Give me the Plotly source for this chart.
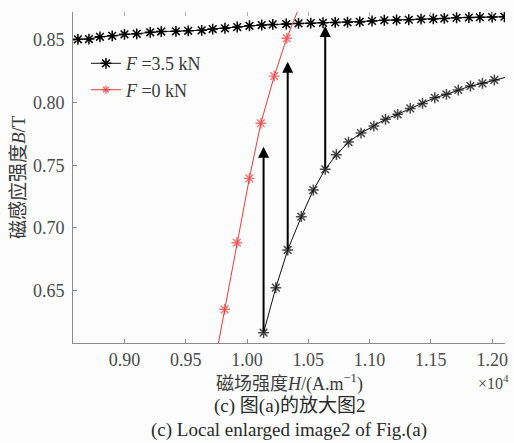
import plotly.graph_objects as go

# Magnetic field strength H (x10^4 A/m) and flux density B (T)
# F = 3.5 kN, upper branch
h_up = [0.862, 0.871, 0.880, 0.890, 0.900, 0.910, 0.921, 0.930, 0.942, 0.952,
        0.963, 0.972, 0.982, 0.992, 1.002, 1.012, 1.021, 1.032, 1.042, 1.052,
        1.062, 1.072, 1.082, 1.092, 1.102, 1.112, 1.122, 1.132, 1.142, 1.152,
        1.161, 1.171, 1.181, 1.190, 1.200, 1.210]
b_up = [0.8506, 0.8508, 0.8526, 0.8534, 0.8546, 0.8550, 0.8562, 0.8568, 0.8570, 0.8574,
        0.8578, 0.8588, 0.8594, 0.8604, 0.8614, 0.8620, 0.8625, 0.8628, 0.8633, 0.8635,
        0.8638, 0.8641, 0.8642, 0.8645, 0.8652, 0.8658, 0.8660, 0.8662, 0.8667, 0.8669,
        0.8673, 0.8678, 0.8680, 0.8682, 0.8684, 0.8686]

# F = 3.5 kN, lower branch (last point continues the line past the axis end)
h_low = [1.0135, 1.0235, 1.0332, 1.0443, 1.0541, 1.0638, 1.0729, 1.0828, 1.0930, 1.1035,
         1.1130, 1.1229, 1.1332, 1.1432, 1.1532, 1.1627, 1.1724, 1.1823, 1.1921, 1.2018,
         1.2120]
b_low = [0.6162, 0.6522, 0.6823, 0.7089, 0.7302, 0.7467, 0.7584, 0.7685, 0.7757, 0.7813,
         0.7867, 0.7907, 0.7954, 0.7994, 0.8039, 0.8066, 0.8101, 0.8133, 0.8154, 0.8181,
         0.8205]

# F = 0 kN (first and last points extend the line beyond the axes)
h_zero = [0.9717, 0.9817, 0.9917, 1.0019, 1.0113, 1.0222, 1.0324, 1.0425]
b_zero = [0.5820, 0.6349, 0.6881, 0.7395, 0.7835, 0.8212, 0.8514, 0.8760]

# Vertical arrows: (H, B start, B end)
arrow_h = [1.0135, 1.0332, 1.0638]
arrow_b0 = [0.6162, 0.6823, 0.7467]
arrow_b1 = [0.7648, 0.8327, 0.8612]

x_ticks = [0.90, 0.95, 1.00, 1.05, 1.10, 1.15, 1.20]
y_ticks = [0.65, 0.70, 0.75, 0.80, 0.85]

SERIF = "Liberation Serif, Noto Sans CJK SC"
TICK_COLOR = "#4a4a4a"
AXIS_COLOR = "#8c8c8c"

fig = go.Figure()

low_sizes = [9] * (len(h_low) - 1) + [0]
fig.add_trace(go.Scatter(
    x=h_up, y=b_up, mode="lines+markers", name="<i>F</i> =3.5 kN",
    line=dict(color="#111111", width=1),
    marker=dict(symbol="asterisk", size=9, line=dict(color="#000000", width=1.5)),
))
fig.add_trace(go.Scatter(
    x=h_low, y=b_low, mode="lines+markers", showlegend=False,
    line=dict(color="#111111", width=1),
    marker=dict(symbol="asterisk", size=low_sizes, line=dict(color="#000000", width=1.5)),
))
zero_sizes = [0] + [9] * (len(h_zero) - 2) + [0]
fig.add_trace(go.Scatter(
    x=h_zero, y=b_zero, mode="lines+markers", name="<i>F</i> =0 kN",
    line=dict(color="#f03a3a", width=1),
    marker=dict(symbol="asterisk", size=zero_sizes, line=dict(color="#f03a3a", width=1.4)),
))

# mirrored tick marks along the top edge
fig.add_trace(go.Scatter(x=[h_up[0]], y=[b_up[0]], xaxis="x2", mode="markers",
                         marker=dict(size=0, opacity=0), showlegend=False, hoverinfo="skip"))

for h, b0, b1 in zip(arrow_h, arrow_b0, arrow_b1):
    fig.add_annotation(
        x=h, y=b1, ax=h, ay=b0, xref="x", yref="y", axref="x", ayref="y",
        text="", showarrow=True, arrowhead=2, arrowsize=1.1, arrowwidth=2,
        arrowcolor="#000000", standoff=0, startstandoff=0,
    )

fig.add_annotation(text="磁感应强度<i>B</i>/T", xref="paper", yref="paper",
                   x=-0.126, y=0.5, xanchor="center", yanchor="middle",
                   textangle=-90, showarrow=False,
                   font=dict(family=SERIF, size=19, color="#3a3a3a"))
fig.add_annotation(text="磁场强度<i>H</i>/(A.m<sup>−1</sup>)", xref="paper", yref="paper",
                   x=0.5, y=-0.121, yanchor="middle", showarrow=False,
                   font=dict(family=SERIF, size=18, color="#3a3a3a"))
fig.add_annotation(text="×10<sup>4</sup>", xref="paper", yref="paper",
                   x=1.012, y=-0.084, xanchor="right", yanchor="top", showarrow=False,
                   borderpad=0, font=dict(family=SERIF, size=16, color=TICK_COLOR))
fig.add_annotation(text="(c) 图(a)的放大图2", xref="paper", yref="paper",
                   x=0.5, y=-0.19, yanchor="middle", showarrow=False,
                   font=dict(family=SERIF, size=19, color="#2a2a2a"))
fig.add_annotation(text="(c) Local enlarged image2 of Fig.(a)", xref="paper", yref="paper",
                   x=0.5, y=-0.263, yanchor="middle", showarrow=False,
                   font=dict(family=SERIF, size=19, color="#2a2a2a"))

axis_common = dict(showgrid=False, zeroline=False, ticks="inside", ticklen=4,
                   tickcolor=AXIS_COLOR, tickwidth=1,
                   tickfont=dict(family=SERIF, size=18, color=TICK_COLOR))

fig.update_layout(
    width=514, height=443,
    margin=dict(l=73, r=6, t=12, b=100),
    paper_bgcolor="#fcfcfc", plot_bgcolor="#fcfcfc",
    font=dict(family=SERIF, color=TICK_COLOR),
    xaxis=dict(range=[0.858, 1.2105], tickvals=x_ticks,
               ticktext=[f"{v:.2f}" for v in x_ticks],
               showline=True, linecolor=AXIS_COLOR, linewidth=1, **axis_common),
    xaxis2=dict(range=[0.858, 1.2105], overlaying="x", side="top", anchor="y",
                tickvals=x_ticks, showticklabels=False, showline=False,
                showgrid=False, zeroline=False, ticks="inside", ticklen=4,
                tickcolor="#b0b0b0", tickwidth=1),
    yaxis=dict(range=[0.608, 0.8724], tickvals=y_ticks,
               ticktext=[f"{v:.2f}" for v in y_ticks], ticklabelstandoff=4,
               showline=True, linecolor=AXIS_COLOR, linewidth=1, **axis_common),
    legend=dict(x=0.03, y=0.9, xanchor="left", yanchor="top",
                bgcolor="rgba(0,0,0,0)", borderwidth=0, itemwidth=30,
                font=dict(family=SERIF, size=18, color="#3a3a3a"),
                tracegroupgap=0),
    showlegend=True,
)

fig.write_html("out.html")
